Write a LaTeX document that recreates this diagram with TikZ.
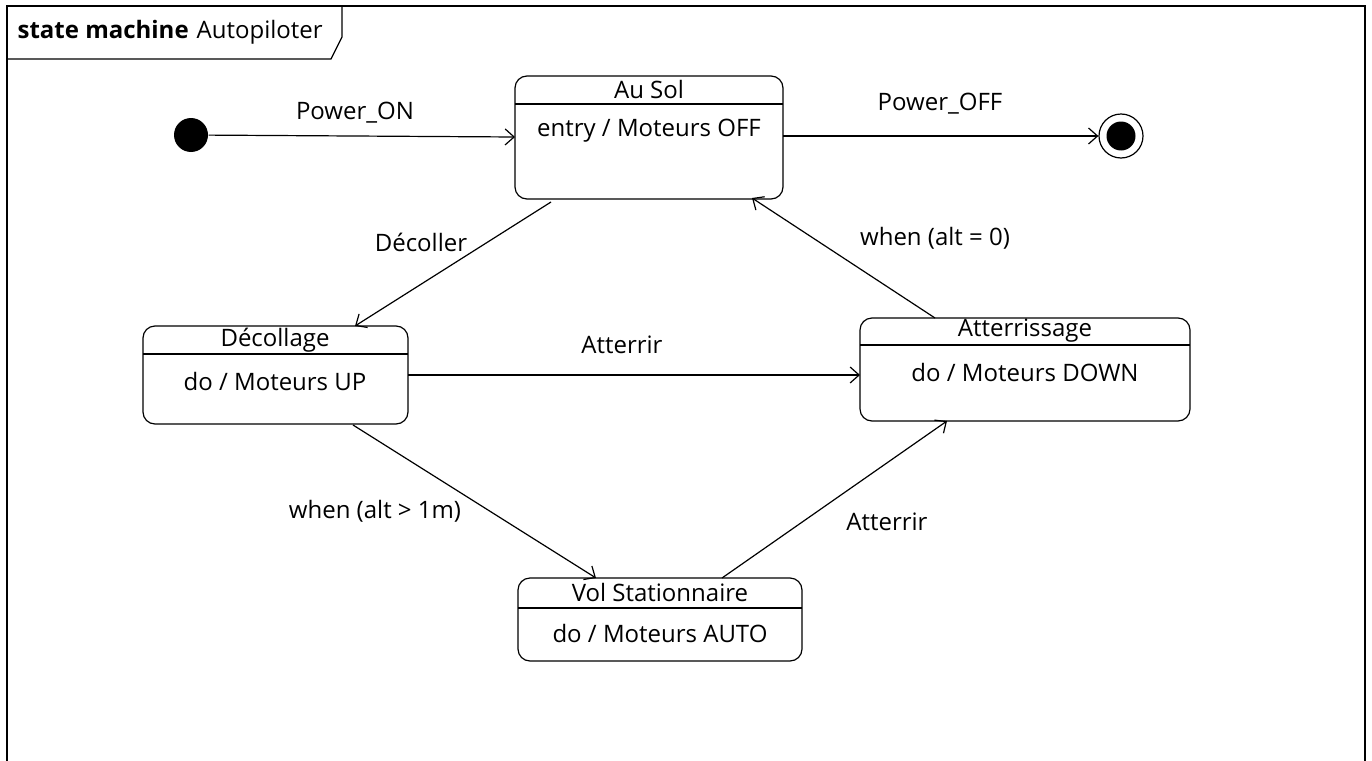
\documentclass[tikz,border=0pt]{standalone}
\usepackage{fontspec}
\setmainfont{Open Sans}
\usetikzlibrary{arrows.meta}
\begin{document}
\begin{tikzpicture}[x=1pt,y=-1pt,
  line width=1.2pt,
  lbl/.style={font=\fontsize{24}{28}\selectfont, inner sep=0pt},
  statebox/.style={draw, rounded corners=12pt, line width=1.2pt},
  trans/.style={-{Straight Barb[length=9pt,width=16pt,line width=1.2pt]}}
]
\useasboundingbox (0,0) rectangle (1372,760);
% frame
\draw (7,770) -- (7,6) -- (1365,6) -- (1365,770);
\draw (7,59) -- (331,59) -- (342,37) -- (342,6);
\node[lbl, anchor=base west] (title) at (17,39) {\textbf{state machine}\hspace{8pt}Autopiloter};

% initial and final
\node[circle, fill=black, minimum size=34pt, inner sep=0pt] (init) at (191,135) {};
\node[circle, draw, minimum size=44pt, inner sep=0pt] (final) at (1121,136) {};
\node[circle, fill=black, minimum size=29pt, inner sep=0pt] (finalin) at (1121,136) {};

% Au Sol
\draw[statebox] (515,76) rectangle (783,199);
\draw (515,104) -- (783,104);
\coordinate (ausolW) at (515,137);
\coordinate (ausolE) at (783,136);
\coordinate (ausolBL) at (551,202);
\coordinate (ausolBR) at (752,198);
\node[lbl] (ausolT) at (649,89) {Au Sol};
\node[lbl] (ausolC) at (649,131) {entry / Moteurs OFF};

% Decollage
\draw[statebox] (143,326) rectangle (408,424);
\draw (143,354) -- (408,354);
\coordinate (decT) at (355,326);
\coordinate (decE) at (408,375);
\coordinate (decB) at (353,425);
\node[lbl] (decTi) at (275,340) {Décollage};
\node[lbl] (decC) at (275,381) {do / Moteurs UP};

% Atterrissage
\draw[statebox] (860,318) rectangle (1190,421);
\draw (860,345) -- (1190,345);
\coordinate (attT) at (935,318);
\coordinate (attW) at (860,375);
\coordinate (attB) at (947,421);
\node[lbl] (attTi) at (1025,331) {Atterrissage};
\node[lbl] (attC) at (1025,372) {do / Moteurs DOWN};

% Vol Stationnaire
\draw[statebox] (518,578) rectangle (802,661);
\draw (518,608) -- (802,608);
\coordinate (volTL) at (596,578);
\coordinate (volTR) at (722,578);
\node[lbl] (volTi) at (660,592) {Vol Stationnaire};
\node[lbl] (volC) at (660,633) {do / Moteurs AUTO};

% transitions
\draw[trans] (init) -- (ausolW);
\node[lbl] (l1) at (355,113) {Power\_ON};
\draw[trans] (ausolE) -- (final);
\node[lbl] (l2) at (940,104) {Power\_OFF};
\draw[trans] (ausolBL) -- (decT);
\node[lbl] (l3) at (421,242) {Décoller};
\draw[trans] (attT) -- (ausolBR);
\node[lbl] (l4) at (935,238) {when (alt = 0)};
\draw[trans] (decE) -- (attW);
\node[lbl] (l5) at (622,345) {Atterrir};
\draw[trans] (decB) -- (volTL);
\node[lbl] (l6) at (375,511) {when (alt > 1m)};
\draw[trans] (volTR) -- (attB);
\node[lbl] (l7) at (887,522) {Atterrir};
\end{tikzpicture}
\end{document}
